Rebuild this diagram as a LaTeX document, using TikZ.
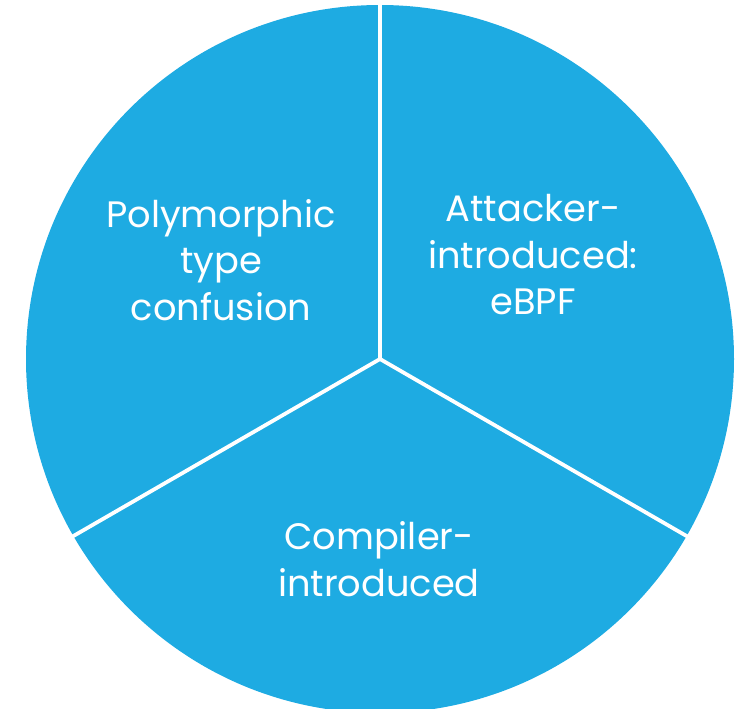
\documentclass[tikz,border=0pt]{standalone}
\usepackage{fontspec}
\setmainfont{Poppins}
\definecolor{pieblue}{RGB}{30,171,226}
\tikzset{
  divider/.style={white, line width=3.8pt},
  label/.style={text=white, align=center, font=\fontsize{36.8}{46.5}\selectfont, inner sep=0pt}
}
\begin{document}
\begin{tikzpicture}[x=1pt,y=-1pt]
  \useasboundingbox (0,0) rectangle (740,709);
  \coordinate (c) at (380,359);
  % three equal sectors of the pie
  \fill[pieblue] (c) circle[radius=354];
  \draw[divider] (c) -- ++(90:-356);
  \draw[divider] (c) -- ++(-210:356);
  \draw[divider] (c) -- ++(-330:356);
  % sector labels
  \node[label] (poly) at (221,260) {Polymorphic\\type\\confusion};
  \node[label] (att) at (533,255) {Attacker-\\introduced:\\eBPF};
  \node[label] (comp) at (379,559) {Compiler-\\introduced};
\end{tikzpicture}
\end{document}
